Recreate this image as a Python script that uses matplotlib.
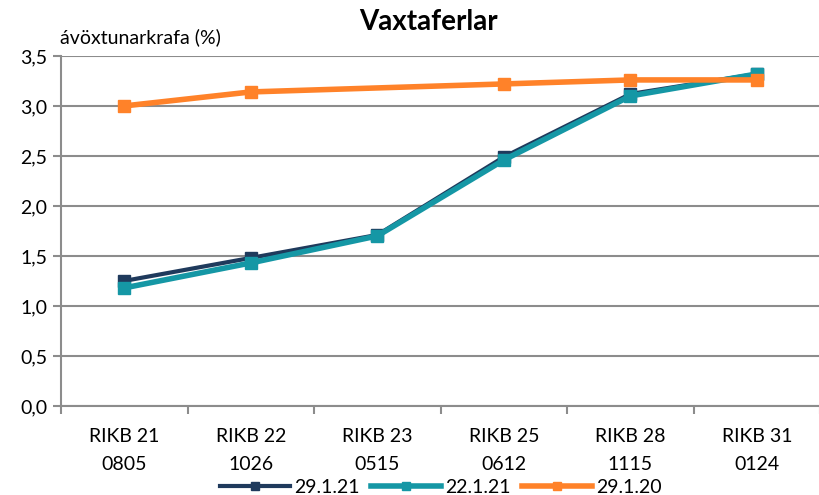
import numpy as np
import matplotlib.pyplot as plt
from matplotlib.ticker import FuncFormatter

plt.rcParams['font.family'] = ['Lato', 'DejaVu Sans']

categories = ['RIKB 21\n0805', 'RIKB 22\n1026', 'RIKB 23\n0515',
              'RIKB 25\n0612', 'RIKB 28\n1115', 'RIKB 31\n0124']
yield_290121 = [1.25, 1.48, 1.71, 2.49, 3.12, 3.32]
yield_220121 = [1.18, 1.43, 1.70, 2.46, 3.10, 3.32]
yield_290120 = [3.00, 3.14, np.nan, 3.22, 3.26, 3.26]

navy = '#1f3a5c'
teal = '#1597a5'
orange = '#ff8229'
grid = '#8c8c8c'

fig = plt.figure(figsize=(8.2, 4.95), dpi=100)
ax = fig.add_axes([0.0744, 0.180, 0.926, 0.707])

x = np.arange(len(categories))

ax.plot(x, yield_290121, color=navy, lw=3, marker='s', ms=9, label='29.1.21', zorder=3)
ax.plot(x, yield_220121, color=teal, lw=4, marker='s', ms=9, label='22.1.21', zorder=4)
# 29.1.20 has no value for RIKB 23, line bridges the gap
y20 = np.array(yield_290120)
ok = ~np.isnan(y20)
ax.plot(x[ok], y20[ok], color=orange, lw=4, marker='s', ms=9, label='29.1.20', zorder=5)

ax.set_xlim(-0.5, len(categories) - 0.5)
ax.set_ylim(0, 3.5)
ax.set_yticks(np.arange(0, 3.51, 0.5))
ax.yaxis.set_major_formatter(FuncFormatter(lambda v, p: f'{v:.1f}'.replace('.', ',')))
ax.set_xticks(x)
ax.set_xticklabels(categories, fontsize=14, linespacing=1.75)
ax.set_xticks(np.arange(-0.5, len(categories)), minor=True)
ax.tick_params(axis='x', which='major', length=0, pad=16)
ax.tick_params(axis='x', which='minor', length=6, color=grid, width=1.5)
ax.tick_params(axis='y', length=6, color=grid, width=1.5, labelsize=14, pad=4)

ax.grid(axis='y', color=grid, lw=1.5)
ax.set_axisbelow(True)
for s in ['top', 'right']:
    ax.spines[s].set_visible(False)
for s in ['left', 'bottom']:
    ax.spines[s].set_color(grid)
    ax.spines[s].set_linewidth(1.5)

fig.text(0.522, 0.955, 'Vaxtaferlar', ha='center', va='center', fontsize=20, fontweight='bold')
fig.text(0.073, 0.925, 'ávöxtunarkrafa (%)', ha='left', va='center', fontsize=14)

ax.legend(loc='lower center', bbox_to_anchor=(0.5, -0.297), ncol=3, frameon=False,
          fontsize=14, handlelength=3.6, columnspacing=0.6, handletextpad=0.2,
          markerscale=0.7, borderpad=0.2)

fig.savefig('out.png', dpi=100)
